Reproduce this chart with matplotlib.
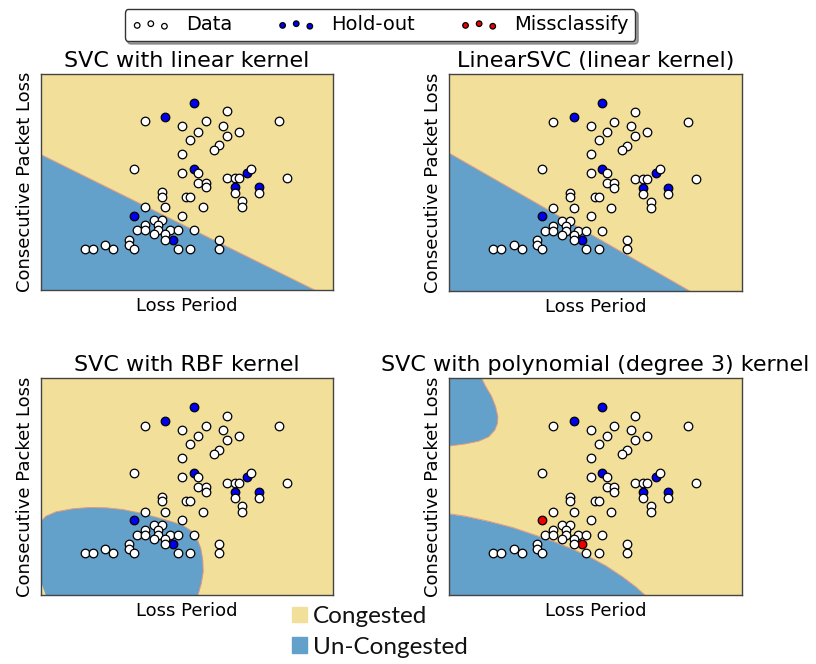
import matplotlib
matplotlib.use('Agg')
import matplotlib.pyplot as plt
from matplotlib.patches import Patch
import numpy as np

# colours of the two classes
congested_col = '#f2df99'
uncongested_col = '#63a1cb'

# training points (Loss Period, Consecutive Packet Loss)
data_x = [105.3, 142.7, 166.3, 187.0, 183.0, 158.7, 187.0, 199.0, 239.7, 150.7,
          179.0, 174.0, 142.7, 94.3, 142.7, 158.7, 211.7, 187.0, 195.0, 199.0,
          247.7, 158.7, 166.3, 166.3, 195.0, 219.7, 122.3, 122.3, 146.7, 150.7,
          202.3, 202.3, 105.3, 126.0, 163.0, 142.7, 114.3, 122.3, 105.3, 118.3,
          97.3, 105.3, 118.3, 130.3, 138.3, 154.0, 114.3, 126.0, 126.0, 89.3,
          89.3, 66.0, 45.3, 53.7, 74.0, 94.3, 138.3, 150.7, 179.0, 179.0]
data_y = [167.0, 162.7, 167.0, 177.0, 162.7, 157.0, 152.7, 157.0, 167.0, 148.7,
          143.3, 138.7, 134.7, 120.3, 116.0, 116.0, 120.3, 110.7, 110.7, 110.7,
          110.7, 106.3, 106.3, 101.7, 96.0, 96.0, 96.7, 92.3, 92.3, 92.3,
          88.0, 82.3, 82.3, 82.3, 82.3, 73.7, 69.3, 69.3, 64.0, 64.0,
          59.3, 59.3, 59.3, 59.3, 59.3, 59.3, 55.0, 55.0, 50.0, 50.0,
          45.0, 45.0, 41.0, 41.0, 41.0, 41.0, 41.0, 41.0, 50.0, 41.0]

# hold-out points
hold_x = [154.0, 126.0, 154.0, 207.3, 195.0, 219.7, 94.3, 134.0]
hold_y = [185.7, 171.3, 120.3, 116.0, 101.7, 101.7, 73.7, 50.0]

# hold-out points the polynomial kernel gets wrong
poly_miss = [6, 7]

# decision boundaries (un-congested side is below / inside)
lin_bx = [0.0, 275.0]
lin_by = [135.0, 0.0]

linsvc_bx = [0.0, 241.3]
linsvc_by = [137.0, 0.0]

rbf_bx = [0.0, 6.7, 16.7, 33.3, 50.0, 66.7, 83.3, 100.0, 116.7, 133.3, 143.3,
          151.7, 157.3, 161.3, 163.3, 163.7, 161.7, 158.3, 155.0, 10.0, 6.7, 0.0]
rbf_by = [71.0, 77.7, 82.0, 85.0, 86.3, 86.0, 84.3, 81.0, 76.7, 72.0, 68.7,
          63.3, 56.0, 46.0, 34.3, 22.7, 11.0, -0.7, -7.3, -7.3, -0.7, 17.7]

poly_top_x = [-2.0, 29.7, 38.0, 44.0, 48.0, 50.3, 50.0, 47.3, 41.3, 31.3, 18.0, 4.7, -2.0]
poly_top_y = [222.7, 222.7, 206.0, 196.0, 186.0, 176.0, 169.3, 162.7, 156.0, 151.7, 149.0, 147.3, 146.7]

poly_low_x = [-2.0, 18.0, 41.3, 64.7, 84.7, 104.7, 124.7, 141.3, 158.0, 174.7, 188.0, 198.0]
poly_low_y = [80.7, 77.7, 72.7, 66.7, 60.0, 53.3, 45.3, 37.7, 28.7, 17.7, 7.7, -1.3]

titles = ['SVC with linear kernel', 'LinearSVC (linear kernel)',
          'SVC with RBF kernel', 'SVC with polynomial (degree 3) kernel']

W, H = 816, 664
fig = plt.figure(figsize=(W / 100, H / 100), dpi=100)

# axes boxes in pixels: left, top, right, bottom
boxes = [(41, 74, 333, 290), (449, 74, 742, 291),
         (41, 378, 333, 595), (449, 378, 742, 595)]
axes = []
for (l, t, r, b) in boxes:
    ax = fig.add_axes([l / W, 1 - b / H, (r - l) / W, (b - t) / H])
    ax.set_facecolor(congested_col)
    ax.set_xlim(1.7, 293.3)
    ax.set_ylim(0, 214)
    ax.set_xticks([])
    ax.set_yticks([])
    for s in ax.spines.values():
        s.set_color('#444444')
        s.set_linewidth(1.0)
    axes.append(ax)

edge = '#e09a80'
# linear kernels
for ax, bx, by in [(axes[0], lin_bx, lin_by), (axes[1], linsvc_bx, linsvc_by)]:
    ax.fill_between(bx, by, -20, color=uncongested_col, lw=0)
    ax.plot(bx, by, color=edge, lw=0.7)

# rbf
axes[2].fill(rbf_bx, rbf_by, color=uncongested_col, lw=0)
axes[2].plot(rbf_bx[:18], rbf_by[:18], color=edge, lw=0.7)

# polynomial
axes[3].fill(poly_top_x, poly_top_y, color=uncongested_col, lw=0)
axes[3].plot(poly_top_x[1:], poly_top_y[1:], color=edge, lw=0.7)
axes[3].fill_between(poly_low_x, poly_low_y, -20, color=uncongested_col, lw=0)
axes[3].plot(poly_low_x, poly_low_y, color=edge, lw=0.7)

for i, ax in enumerate(axes):
    hx = np.array(hold_x)
    hy = np.array(hold_y)
    ok = np.ones(len(hx), dtype=bool)
    if i == 3:
        ok[poly_miss] = False
    h_hold = ax.scatter(hx[ok], hy[ok], s=38, c='#0000ee', edgecolors='k', linewidths=0.9, zorder=3)
    h_miss = ax.scatter(hx[~ok], hy[~ok], s=38, c='#ee0000', edgecolors='k', linewidths=0.9, zorder=3)
    h_data = ax.scatter(data_x, data_y, s=38, c='white', edgecolors='k', linewidths=0.9, zorder=4)
    ax.set_title(titles[i], fontsize=16, pad=5)
    ax.set_xlabel('Loss Period', fontsize=13, labelpad=5)
    ax.set_ylabel('Consecutive Packet Loss', fontsize=13, labelpad=5)
    if i == 0:
        handles = [h_data, h_hold]
    if i == 3:
        handles.append(h_miss)

leg = fig.legend(handles, ['Data', 'Hold-out', 'Missclassify'], ncol=3,
                 loc='center', bbox_to_anchor=(380 / W, 1 - 25 / H),
                 scatterpoints=3, markerscale=0.65, fontsize=14,
                 handlelength=2.0, columnspacing=2.3, handletextpad=0.8,
                 fancybox=True, shadow=True, framealpha=1,
                 borderpad=0.35)
leg.get_frame().set_edgecolor('#333333')

leg2 = fig.legend([Patch(color=congested_col), Patch(color=uncongested_col)],
                  ['Congested', 'Un-Congested'], loc='upper left',
                  bbox_to_anchor=(292 / W, 1 - 606 / H), frameon=False,
                  prop={'family': 'Lato', 'size': 17.5},
                  handlelength=0.6, handleheight=0.6, handletextpad=0.25,
                  labelspacing=0.4, borderpad=0, borderaxespad=0)
for t in leg2.get_texts():
    t.set_color('#111111')

fig.savefig('out.png', dpi=100)
